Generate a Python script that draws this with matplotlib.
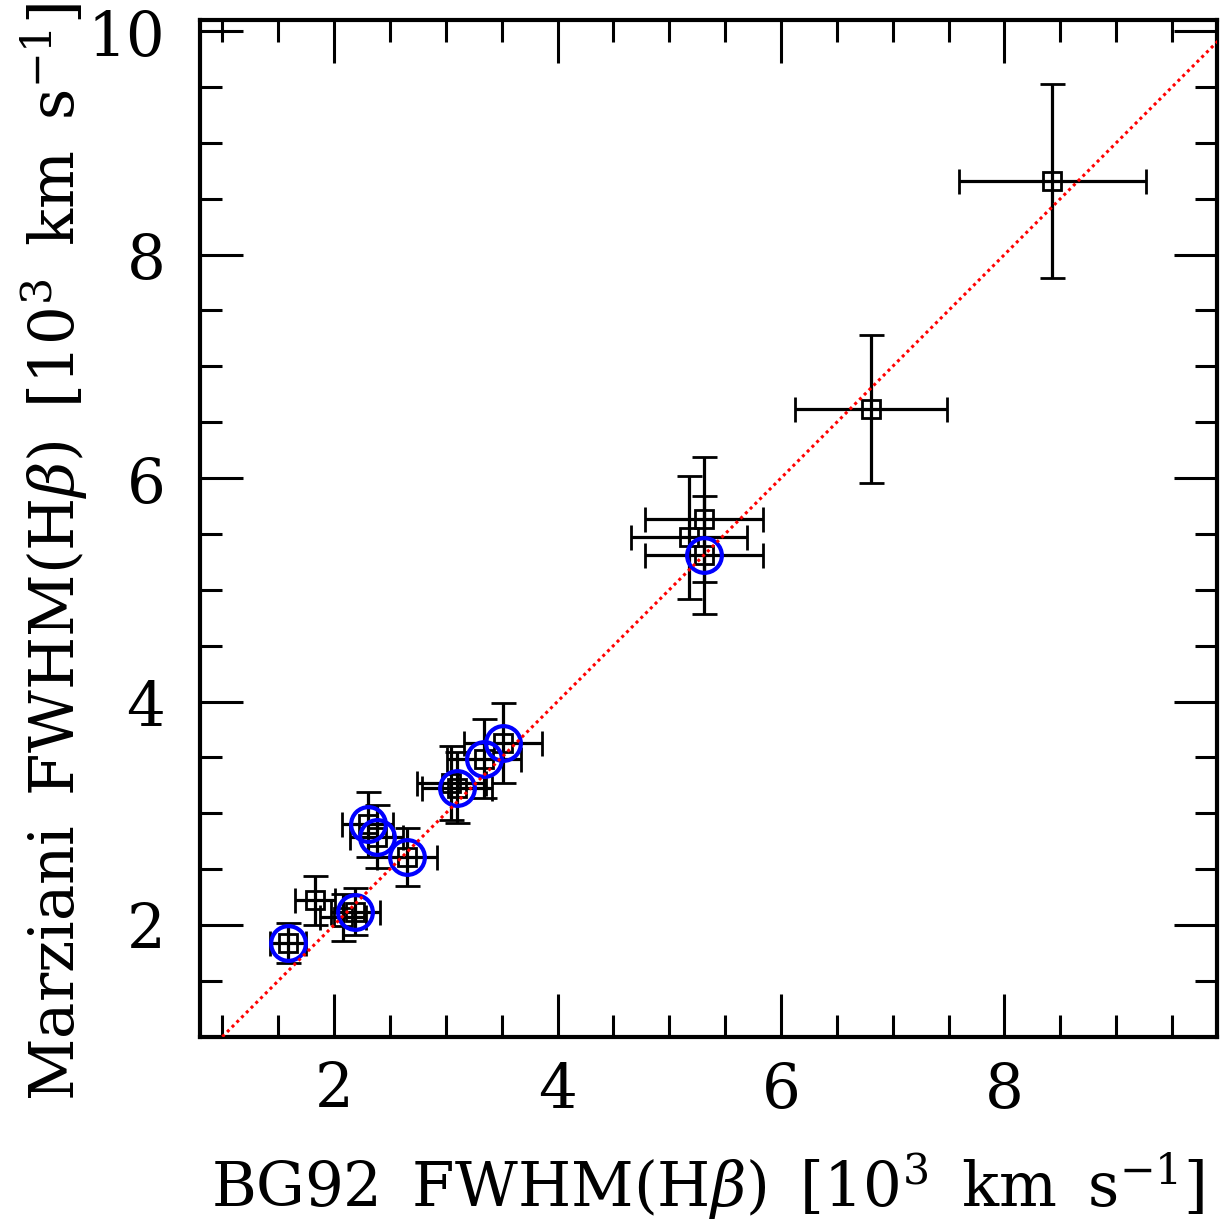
import numpy as np
import matplotlib
matplotlib.use('Agg')
import matplotlib.pyplot as plt
from matplotlib.ticker import MultipleLocator

# BG92 と Marziani の FWHM(Hβ) 比較 [10^3 km/s]
bg92 = [1.59, 1.83, 2.08, 2.19, 2.30, 2.38, 2.65, 3.05, 3.10, 3.34, 3.51,
        5.18, 5.31, 5.31, 6.81, 8.43]
marz = [1.84, 2.22, 2.07, 2.12, 2.90, 2.79, 2.61, 3.27, 3.23, 3.49, 3.63,
        5.47, 5.63, 5.31, 6.62, 8.66]
bg92_err = [0.16, 0.18, 0.21, 0.22, 0.23, 0.24, 0.27, 0.31, 0.31, 0.33, 0.35,
            0.52, 0.53, 0.53, 0.68, 0.84]
marz_err = [0.18, 0.22, 0.21, 0.21, 0.29, 0.28, 0.26, 0.33, 0.32, 0.35, 0.36,
            0.55, 0.56, 0.53, 0.66, 0.87]
# 青丸で囲む点
circled = [1, 0, 0, 1, 1, 1, 1, 0, 1, 1, 1, 0, 0, 1, 0, 0]

plt.rcParams['font.family'] = 'DejaVu Serif'
plt.rcParams['mathtext.fontset'] = 'dejavuserif'

fig = plt.figure(figsize=(12.25, 12.22), dpi=100)
ax = fig.add_axes([200/1225, 1-1036.7/1222, 1016.7/1225, 1016.7/1222])

# エラーバー付きの四角
ax.errorbar(bg92, marz, xerr=bg92_err, yerr=marz_err, fmt='s',
            mfc='none', mec='black', mew=2.0, ms=13, ecolor='black',
            elinewidth=2.3, capsize=9, capthick=2.3, zorder=2)

# 青丸
cx = [x for x, c in zip(bg92, circled) if c]
cy = [y for y, c in zip(marz, circled) if c]
ax.plot(cx, cy, 'o', mfc='none', mec='blue', mew=3.0, ms=25, zorder=3)

# 1:1 の線
ax.plot([1, 10], [1, 10], color='red', lw=2.2, ls=(0, (1, 1.2)), zorder=4)

ax.set_xlim(0.8, 9.9)
ax.set_ylim(1.0, 10.1)

ax.xaxis.set_major_locator(MultipleLocator(2))
ax.xaxis.set_minor_locator(MultipleLocator(0.5))
ax.yaxis.set_major_locator(MultipleLocator(2))
ax.yaxis.set_minor_locator(MultipleLocator(0.5))

ax.tick_params(which='both', direction='in', top=True, right=True,
               width=2.2, labelsize=44)
ax.tick_params(which='major', length=31)
ax.tick_params(which='minor', length=15.6)
ax.tick_params(axis='x', pad=17)
ax.tick_params(axis='y', pad=25)

for sp in ax.spines.values():
    sp.set_linewidth(3.0)

sp2 = '\u2002'
fig.text(708/1225, 1-1206.7/1222,
         sp2.join(['BG92', r'FWHM(H$\beta$)', r'[10$^3$', 'km', r's$^{-1}$]']),
         fontsize=44, ha='center', va='baseline')
fig.text(75/1225, 1-552/1222,
         sp2.join(['Marziani', r'FWHM(H$\beta$)', r'[10$^3$', 'km', r's$^{-1}$]']),
         fontsize=44, ha='center', va='baseline', rotation=90,
         rotation_mode='anchor')

fig.savefig('out.png', dpi=100)
plt.close()
